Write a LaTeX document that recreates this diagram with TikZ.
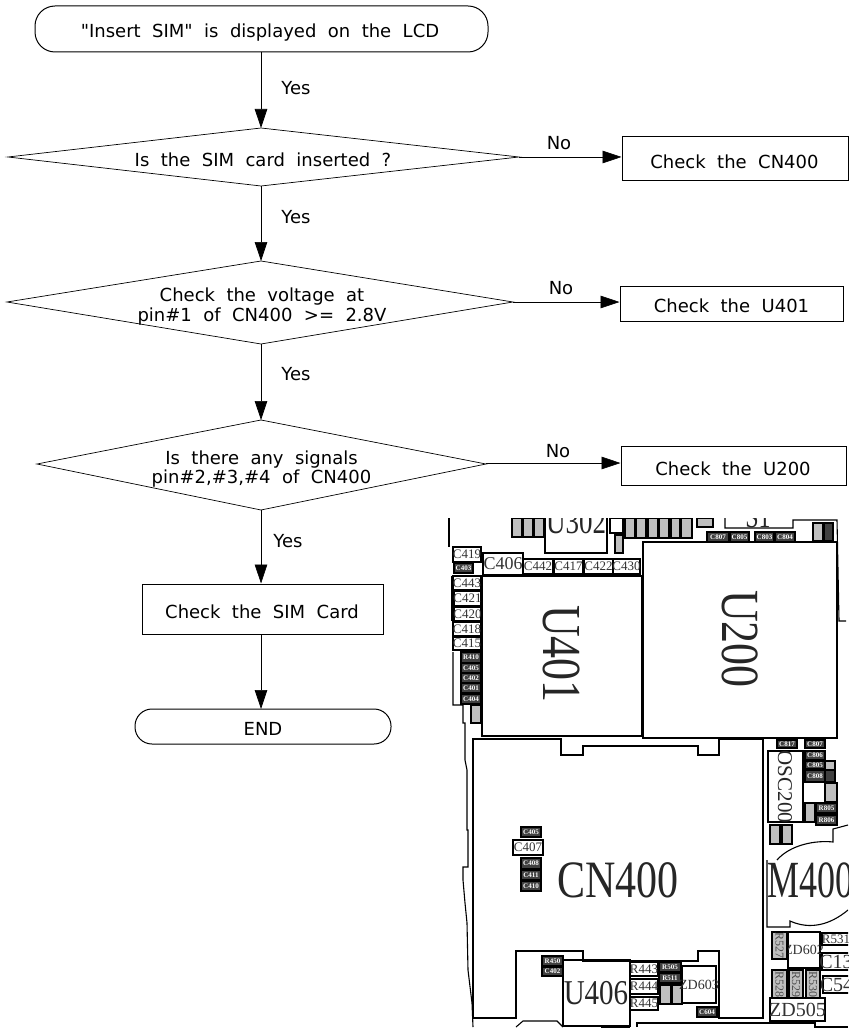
\documentclass[tikz,border=0pt]{standalone}
\usepackage{fontspec}
\usepackage{graphicx}
\setmainfont[WordSpace=2,Ligatures=TeXOff]{DejaVu Sans}
\newfontfamily\pcbfont{Liberation Serif}
\usetikzlibrary{arrows.meta,shapes.geometric}
\newcommand{\fsz}[1]{\fontsize{#1}{#1}\selectfont}
\newcommand{\pbox}[6]{\draw[#5] (#1,#2) rectangle (#3,#4) node[midway,inner sep=0pt,outer sep=0pt]{#6};}
\tikzset{
  flowline/.style={draw=black,line width=0.7pt},
  boxline/.style={draw=black,line width=1pt},
  arrowline/.style={draw=black,line width=0.7pt,-{Triangle[length=19pt,width=12.5pt]}},
  flowtext/.style={font=\fontsize{18}{19}\selectfont,inner sep=0pt,align=center,text depth=0pt},
  startbox/.style={boxline,rounded corners=20pt},
  endbox/.style={boxline,rounded corners=17pt},
  flowlabel/.style={font=\fsz{18},inner sep=0pt},
  pcbline/.style={draw=black,line width=1.1pt},
  comp/.style={draw=black,line width=1.3pt,fill=white,text=black!80,font=\pcbfont\fsz{13}},
  compgray/.style={draw=black,line width=1.3pt,fill=black!25,font=\pcbfont\fsz{12},text=black!70},
  compdark/.style={draw=black,line width=1.1pt,fill=black!75,font=\pcbfont\bfseries\fsz{7},text=white},
  biglabel/.style={font=\pcbfont,inner sep=0pt,text=black!85},
}
\begin{document}
\begin{tikzpicture}[x=1pt,y=-1pt]
\useasboundingbox (0,0) rectangle (850,1032);
% flowchart nodes
\draw[startbox] (35,6) rectangle (488,52);
\node[flowtext] (start) at (260,31) {"Insert SIM" is displayed on the LCD};
\coordinate (startb) at (261,52);
\draw[flowline] (261,128) -- (519,157) -- (261,186) -- (8,157) -- cycle;
\node[flowtext] (d1) at (263,160) {Is the SIM card inserted ?};
\coordinate (d1t) at (261,128); \coordinate (d1b) at (261,186); \coordinate (d1r) at (519,157);
\node[boxline,minimum width=226pt,minimum height=44pt,inner sep=0pt] (cn) at (735,159) {};
\node[flowtext] (cnt) at (734.5,162) {Check the CN400};
\draw[flowline] (261,261) -- (513,302) -- (261,344) -- (7,302) -- cycle;
\node[flowtext] (d2) at (262,305) {Check the voltage at\\[1pt]pin\#1 of CN400 >= 2.8V};
\coordinate (d2t) at (261,261); \coordinate (d2b) at (261,344); \coordinate (d2r) at (513,302);
\node[boxline,minimum width=223pt,minimum height=35pt,inner sep=0pt] (u401) at (731.5,303.5) {};
\node[flowtext] (u401t) at (731.5,306) {Check the U401};
\draw[flowline] (261,420) -- (486,464) -- (261,510) -- (37,464) -- cycle;
\node[flowtext] (d3) at (261.5,467.5) {Is there any signals\\pin\#2,\#3,\#4 of CN400};
\coordinate (d3t) at (261,420); \coordinate (d3b) at (261,510); \coordinate (d3r) at (486,463);
\node[boxline,minimum width=225pt,minimum height=39pt,inner sep=0pt] (u200) at (733.5,465.5) {};
\node[flowtext] (u200t) at (733,469) {Check the U200};
\node[boxline,minimum width=241pt,minimum height=50pt,inner sep=0pt] (sim) at (262.5,609) {};
\node[flowtext] (simt) at (262,612) {Check the SIM Card};
\draw[endbox] (135,709) rectangle (391,744);
\node[flowtext] (endn) at (263,729) {END};
\coordinate (endt) at (261,709);
% connectors
\draw[arrowline] (startb) -- (d1t);
\draw[arrowline] (d1b) -- (d2t);
\draw[arrowline] (d2b) -- (d3t);
\draw[arrowline] (d3b) -- (d3b |- sim.north);
\draw[arrowline] (d3b |- sim.south) -- (endt);
\draw[arrowline] (d1r) -- (d1r -| cn.west);
\draw[arrowline] (d2r) -- (d2r -| u401.west);
\draw[arrowline] (d3r) -- (d3r -| u200.west);
% labels
\node[flowlabel] (y1) at (296,88) {Yes};
\node[flowlabel] (y2) at (296,217) {Yes};
\node[flowlabel] (y3) at (296,374) {Yes};
\node[flowlabel] (y4) at (288,541) {Yes};
\node[flowlabel] (n1) at (559,143) {No};
\node[flowlabel] (n2) at (561,288) {No};
\node[flowlabel] (n3) at (558,451) {No};
% PCB drawing
\begin{scope}
\clip (440,518) rectangle (848,1032);
% ICs
\draw[pcbline,line width=1.4pt] (482,576) rectangle (642,736);
\draw[pcbline,line width=1.4pt] (643,542) rectangle (837,738);
\node[biglabel,rotate=-90] at (562,654) {\scalebox{1}[1.25]{\fsz{44}U401}};
\node[biglabel,rotate=-90] at (740,639) {\scalebox{1}[1.22]{\fsz{44}U200}};
% connector outline
\draw[pcbline] (473,739) -- (561,739) -- (561,755) -- (583,755) -- (583,746) -- (698,746) -- (698,755) -- (719,755) -- (719,739) -- (763,739) -- (763,1018) -- (719,1018) -- (719,951) -- (698,951) -- (698,961) -- (583,961) -- (583,951) -- (516,951) -- (516,1018) -- (473,1018) -- cycle;
\node[biglabel] at (618,880) {\scalebox{1}[1.25]{\fsz{42}CN400}};
% U406
\draw[pcbline] (563,960) rectangle (630,1026);
\node[biglabel] at (596,993) {\scalebox{1}[1.2]{\fsz{29}U406}};
% U302
\draw[pcbline] (545,518) -- (545,553) -- (607,553) -- (607,518);
\node[biglabel,anchor=base] at (576,533) {\scalebox{1}[1.3]{\fsz{27}U302}};
\node[biglabel,anchor=base] at (758,527) {\scalebox{1}[1.3]{\fsz{24}S1}};
% board outline
\draw[pcbline] (449,518) -- (449,547);
\draw[pcbline] (452,576) -- (452,621);
\draw[pcbline] (453,652) -- (453,705) -- (463,705) -- (463,723) -- (465,723) -- (465,760) -- (467,770) -- (467,830) -- (468,830) -- (468,867) -- (463,867) -- (463,880) -- (465,903) -- (467,923) -- (468,970) -- (472,1003) -- (473,1027);
\draw[pcbline] (516,1027) -- (523,1021) -- (557,1021) -- (563,1027);
\draw[pcbline,line width=1.6pt] (601,1027) -- (630,1027);
\draw[pcbline] (637,1027) -- (637,1023) -- (815,1023) -- (815,1027) -- (848,1027);
\draw[pcbline] (725,518) -- (725,528) -- (793,528) -- (793,520) -- (837,520) -- (839,621) -- (846,621);
% motor and OSC
\draw[pcbline] (768,751) rectangle (803,822);
\node[biglabel,rotate=-90] at (785,787) {\fsz{21}OSC200};
\draw[pcbline] (848,825) -- (833,829) -- (833,842) .. controls (815,840) and (790,845) .. (777,860);
\draw[pcbline] (767,860) -- (767,927) -- (790,927) -- (790,921) .. controls (810,930) and (830,925) .. (848,910);
\node[biglabel,anchor=west] at (767,880) {\scalebox{1}[1.45]{\fsz{36}M400}};
% left column
\pbox{453}{547}{481}{562}{comp}{C419}
\pbox{454}{563}{473}{573}{compdark}{C403}
\pbox{483}{553}{523}{575}{comp,font=\pcbfont\fsz{18}}{C406}
\pbox{523}{559}{553}{574}{comp}{C442}
\pbox{554}{559}{583}{574}{comp}{C417}
\pbox{584}{559}{613}{574}{comp}{C422}
\pbox{613}{559}{640}{574}{comp}{C430}
\pbox{453}{576}{481}{590}{comp}{C443}
\pbox{454}{591}{481}{606}{comp}{C421}
\pbox{454}{607}{481}{621}{comp}{C420}
\pbox{453}{622}{481}{636}{comp}{C418}
\pbox{453}{637}{481}{650}{comp}{C415}
\pbox{461}{652}{481}{663}{compdark}{R410}
\pbox{461}{663}{481}{673}{compdark}{C405}
\pbox{461}{673}{481}{683}{compdark}{C402}
\pbox{461}{683}{481}{693}{compdark}{C401}
\pbox{461}{694}{481}{704}{compdark}{C404}
\pbox{471}{705}{481}{723}{compgray}{}
% top row
\pbox{512}{518}{522}{537}{compgray}{}
\pbox{523}{518}{533}{537}{compgray}{}
\pbox{534}{518}{544}{537}{compgray}{}
\pbox{610}{518}{623}{533}{comp}{}
\pbox{615}{535}{623}{553}{compgray}{}
\pbox{625}{518}{635}{538}{compgray}{}
\pbox{636}{518}{646}{538}{compgray}{}
\pbox{648}{518}{658}{538}{compgray}{}
\pbox{659}{518}{669}{538}{compgray}{}
\pbox{671}{518}{680}{538}{compgray}{}
\pbox{681}{518}{692}{538}{compgray}{}
\pbox{697}{518}{713}{527}{compgray}{}
\pbox{707}{532}{729}{542}{compdark}{C807}
\pbox{730}{532}{749}{542}{compdark}{C805}
\pbox{755}{532}{774}{542}{compdark}{C803}
\pbox{775}{532}{795}{542}{compdark}{C804}
\pbox{813}{523}{823}{541}{compgray}{}
\pbox{824}{523}{833}{541}{compdark}{}
% OSC neighbours
\pbox{777}{740}{797}{748}{compdark}{C817}
\pbox{805}{740}{825}{748}{compdark}{C807}
\pbox{805}{751}{825}{760}{compdark}{C806}
\pbox{805}{761}{825}{769}{compdark}{C805}
\pbox{805}{770}{825}{782}{compdark}{C808}
\pbox{825}{761}{835}{770}{compgray}{}
\pbox{825}{770}{835}{782}{compdark}{}
\pbox{825}{783}{837}{802}{compgray}{}
\pbox{805}{803}{815}{822}{compgray}{}
\pbox{816}{803}{837}{813}{compdark}{R805}
\pbox{816}{815}{837}{825}{compdark}{R806}
\pbox{770}{825}{780}{844}{compgray}{}
\pbox{782}{825}{792}{844}{compgray}{}
% lower right
\pbox{788}{932}{820}{968}{comp,font=\pcbfont\fsz{14}}{ZD602}
\pbox{772}{932}{787}{959}{compgray}{\rotatebox{-90}{R527}}
\pbox{822}{933}{850}{945}{comp,font=\pcbfont\fsz{13}}{R531}
\pbox{822}{953}{850}{970}{comp,font=\pcbfont\fsz{20}}{C13}
\pbox{823}{976}{850}{993}{comp,font=\pcbfont\fsz{20}}{C54}
\pbox{772}{970}{787}{998}{compgray}{\rotatebox{-90}{R528}}
\pbox{789}{970}{803}{998}{compgray}{\rotatebox{-90}{R529}}
\pbox{806}{970}{820}{998}{compgray}{\rotatebox{-90}{R530}}
\pbox{770}{998}{825}{1021}{comp,font=\pcbfont\fsz{20}}{ZD505}
% lower middle
\pbox{630}{962}{658}{976}{comp}{R443}
\pbox{630}{979}{658}{994}{comp}{R444}
\pbox{630}{997}{658}{1010}{comp}{R445}
\pbox{659}{962}{681}{972}{compdark}{R505}
\pbox{659}{973}{681}{983}{compdark}{R511}
\pbox{660}{985}{671}{1004}{compgray}{}
\pbox{672}{985}{682}{1004}{compgray}{}
\pbox{682}{966}{716}{1003}{comp,font=\pcbfont\fsz{14}}{ZD603}
\pbox{697}{1007}{717}{1017}{compdark}{C604}
\pbox{542}{956}{563}{966}{compdark}{R450}
\pbox{542}{967}{563}{976}{compdark}{C402}
% inside connector
\pbox{521}{827}{541}{837}{compdark}{C405}
\pbox{513}{840}{543}{855}{comp}{C407}
\pbox{521}{858}{541}{869}{compdark}{C408}
\pbox{521}{870}{541}{880}{compdark}{C411}
\pbox{521}{881}{541}{891}{compdark}{C410}
\end{scope}
\end{tikzpicture}
\end{document}
